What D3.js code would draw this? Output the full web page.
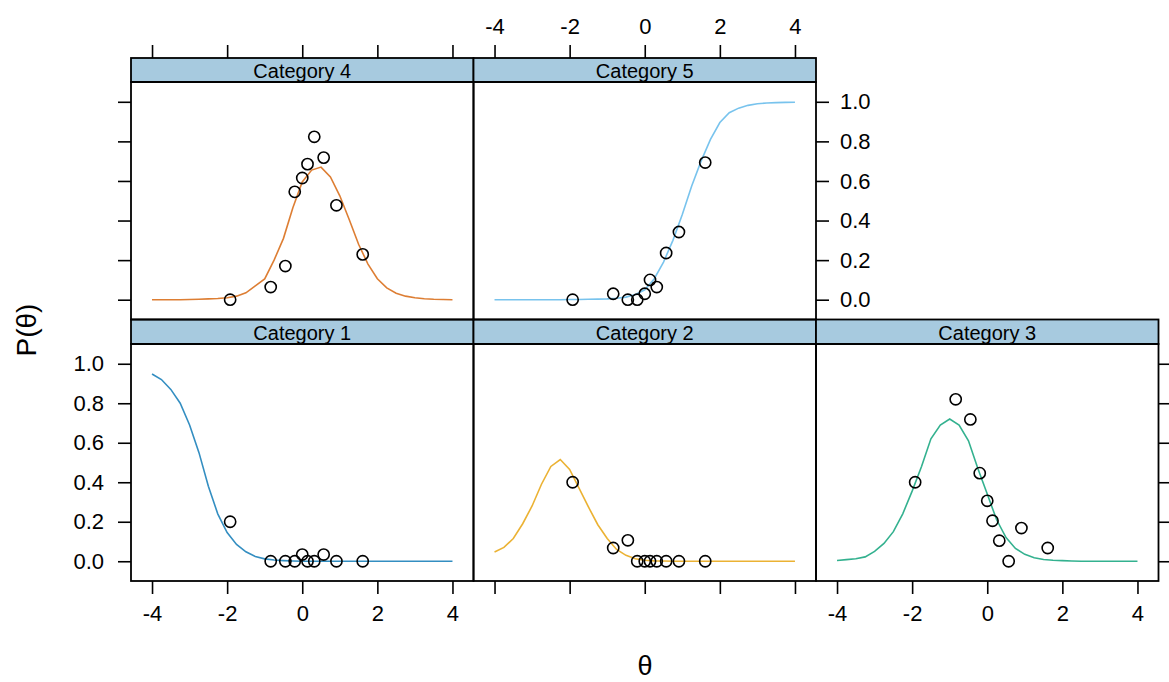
<!DOCTYPE html>
<html><head><meta charset="utf-8">
<script src="https://cdn.jsdelivr.net/npm/d3@7"></script>
<style>
html,body{margin:0;padding:0;background:#fff;}
svg text{font-family:"Liberation Sans",Arial,sans-serif;}
</style></head>
<body><svg id="chart" width="1169" height="682"></svg>
<script>
// ---- data ----
const categories = ["Category 1","Category 2","Category 3","Category 4","Category 5"];
const colors = ["#0072B2","#E69F00","#009E73","#D55E00","#56B4E9"];
const thetaObs = [-1.92, -0.84, -0.45, -0.2, 0.0, 0.14, 0.32, 0.57, 0.91, 1.61];
const obsCat1 = [0.2, 0, 0, 0, 0.034, 0, 0, 0.034, 0, 0];
const obsCat2 = [0.4, 0.067, 0.106, 0, 0, 0, 0, 0, 0, 0];
const obsCat3 = [0.4, 0.82, 0.718, 0.446, 0.306, 0.205, 0.104, 0, 0.168, 0.067];
const obsCat4 = [0, 0.064, 0.17, 0.545, 0.615, 0.685, 0.823, 0.718, 0.477, 0.229];
const obsCat5 = [0, 0.03, 0, 0, 0.03, 0.10, 0.064, 0.236, 0.342, 0.693];
const thetaGrid = [-4,-3.75,-3.5,-3.25,-3,-2.75,-2.5,-2.25,-2,-1.75,-1.5,-1.25,-1,-0.75,-0.5,-0.25,0,
                   0.25,0.5,0.75,1,1.25,1.5,1.75,2,2.25,2.5,2.75,3,3.25,3.5,3.75,4];
const curveCat1 = [0.948,0.92,0.87,0.80,0.69,0.55,0.38,0.24,0.145,0.085,0.048,0.024,0.012,0.006,0.003,0.001,0,
                   0,0,0,0,0,0,0,0,0,0,0,0,0,0,0,0];
const curveCat2 = [0.047,0.07,0.115,0.19,0.28,0.39,0.48,0.515,0.465,0.37,0.275,0.185,0.115,0.06,0.03,0.013,0.005,
                   0.002,0.001,0,0,0,0,0,0,0,0,0,0,0,0,0,0];
const curveCat3 = [0.004,0.008,0.013,0.022,0.05,0.09,0.15,0.24,0.355,0.48,0.62,0.69,0.72,0.69,0.61,0.47,0.34,
                   0.21,0.12,0.065,0.035,0.018,0.009,0.005,0.003,0.001,0,0,0,0,0,0,0];
const curveCat4 = [0,0,0,0,0.001,0.002,0.004,0.006,0.01,0.018,0.035,0.07,0.105,0.2,0.31,0.465,0.595,
                   0.655,0.67,0.62,0.525,0.405,0.28,0.18,0.106,0.06,0.033,0.018,0.01,0.005,0.002,0.001,0];
const curveCat5 = [0,0,0,0,0,0,0,0,0.001,0.001,0.002,0.003,0.004,0.007,0.013,0.026,0.05,
                   0.105,0.19,0.30,0.43,0.575,0.70,0.81,0.895,0.945,0.968,0.982,0.99,0.994,0.996,0.997,0.998];
const xTicks = [-4,-2,0,2,4];
const yTicks = [0,0.2,0.4,0.6,0.8,1.0];
const xLabel = "θ";
const yLabel = "P(θ)";

const obs = [obsCat1, obsCat2, obsCat3, obsCat4, obsCat5];
const curves = [curveCat1, curveCat2, curveCat3, curveCat4, curveCat5];

// ---- layout ----
const svg = d3.select("#chart");
const colX = [131, 473.5, 816];
const panelW = 342.5;
const rows = [ {stripTop:58, panelTop:82, panelBottom:319.5},
               {stripTop:319.5, panelTop:344, panelBottom:581} ];
// panel placement: category index -> [col,row]
const layout = [[0,1],[1,1],[2,1],[0,0],[1,0]];
const tickLen = 13;
const fontSize = 22;

layout.forEach((pos, i) => {
  const [c, r] = pos;
  const R = rows[r];
  const x0 = colX[c], x1 = x0 + panelW;
  const x = d3.scaleLinear().domain([-4.56, 4.56]).range([x0, x1]);
  const y = d3.scaleLinear().domain([-0.1, 1.1]).range([R.panelBottom, R.panelTop]);
  const g = svg.append("g");

  // strip
  g.append("rect").attr("x", x0).attr("y", R.stripTop).attr("width", panelW)
    .attr("height", R.panelTop - R.stripTop).attr("fill", "#A7CADF")
    .attr("stroke", "#000").attr("stroke-width", 1.8);
  g.append("text").attr("x", (x0 + x1) / 2).attr("y", (R.stripTop + R.panelTop) / 2 + 1)
    .attr("text-anchor", "middle").attr("dominant-baseline", "central")
    .attr("font-size", 20).attr("fill", "#000").text(categories[i]);

  // curve
  const line = d3.line().x((d, k) => x(thetaGrid[k])).y(d => y(d));
  g.append("path").datum(curves[i]).attr("d", line).attr("fill", "none")
    .attr("stroke", colors[i]).attr("stroke-width", 1.6).attr("stroke-opacity", 0.8);

  // points
  g.selectAll("circle.pt").data(obs[i]).join("circle").attr("class", "pt")
    .attr("cx", (d, k) => x(thetaObs[k])).attr("cy", d => y(d)).attr("r", 5.6)
    .attr("fill", "none").attr("stroke", "#000").attr("stroke-width", 1.6);

  // panel border
  g.append("rect").attr("x", x0).attr("y", R.panelTop).attr("width", panelW)
    .attr("height", R.panelBottom - R.panelTop).attr("fill", "none")
    .attr("stroke", "#000").attr("stroke-width", 1.8);

  const styleAxis = (ax) => {
    ax.select(".domain").remove();
    ax.selectAll(".tick line").attr("stroke", "#000").attr("stroke-width", 1.6);
    ax.selectAll(".tick text").attr("font-size", fontSize).attr("fill", "#000")
      .attr("font-family", "Liberation Sans, Arial, sans-serif");
  };
  const fmtX = d => String(d);
  const fmtY = d3.format(".1f");

  // bottom axes (row 1)
  if (r === 1) {
    const showLabels = (c !== 1);
    const ax = d3.axisBottom(x).tickValues(xTicks).tickSize(tickLen).tickPadding(11)
      .tickFormat(showLabels ? fmtX : () => "");
    styleAxis(svg.append("g").attr("transform", `translate(0,${R.panelBottom})`).call(ax));
  }
  // top axes (row 0)
  if (r === 0) {
    const showLabels = (c === 1);
    const ax = d3.axisTop(x).tickValues(xTicks).tickSize(tickLen).tickPadding(11)
      .tickFormat(showLabels ? fmtX : () => "");
    styleAxis(svg.append("g").attr("transform", `translate(0,${R.stripTop})`).call(ax));
  }
  // left axes (col 0)
  if (c === 0) {
    const showLabels = (r === 1);
    const ax = d3.axisLeft(y).tickValues(yTicks).tickSize(tickLen).tickPadding(14)
      .tickFormat(showLabels ? fmtY : () => "");
    styleAxis(svg.append("g").attr("transform", `translate(${x0},0)`).call(ax));
  }
  // right axes (rightmost panel of each row)
  if ((r === 0 && c === 1) || (r === 1 && c === 2)) {
    const showLabels = (r === 0);
    const ax = d3.axisRight(y).tickValues(yTicks).tickSize(tickLen).tickPadding(11)
      .tickFormat(showLabels ? fmtY : () => "");
    styleAxis(svg.append("g").attr("transform", `translate(${x1},0)`).call(ax));
  }
});

// axis titles
svg.append("text").attr("x", 645).attr("y", 675).attr("text-anchor", "middle")
  .attr("font-size", 27)
  .attr("font-family", "Liberation Serif, Times New Roman, serif").attr("fill", "#000").text(xLabel);
svg.append("text").attr("transform", "translate(26,330) rotate(-90)").attr("text-anchor", "middle")
  .attr("dominant-baseline", "central").attr("font-size", 28).attr("fill", "#000").text(yLabel);
</script></body></html>
